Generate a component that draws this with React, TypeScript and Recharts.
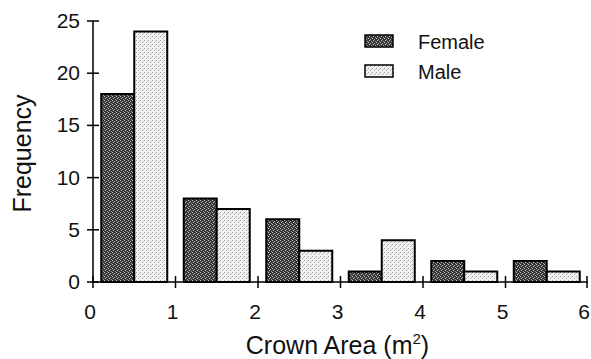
import { Bar, BarChart, Legend, XAxis, YAxis } from "recharts";

const binCenters = [0.5, 1.5, 2.5, 3.5, 4.5, 5.5];
const femaleCounts = [18, 8, 6, 1, 2, 2];
const maleCounts = [24, 7, 3, 4, 1, 1];
const xTicks = [0, 1, 2, 3, 4, 5, 6];
const yTicks = [0, 5, 10, 15, 20, 25];

const data = binCenters.map((x, i) => ({
  x,
  female: femaleCounts[i],
  male: maleCounts[i],
}));

const FONT = '"Liberation Sans", Arial, Helvetica, sans-serif';

function YTick({ x, y, payload }: any) {
  return (
    <g>
      <line x1={x + 7} x2={x + 19} y1={y} y2={y} stroke="#000" strokeWidth={1.5} />
      <text x={x} y={y} dy={7} textAnchor="end" fontSize={21} fontFamily={FONT} fill="#111">
        {payload.value}
      </text>
    </g>
  );
}

function XTick({ x, y, payload }: any) {
  return (
    <g>
      <line x1={x} x2={x} y1={y - 16} y2={y - 4} stroke="#000" strokeWidth={1.5} />
      <text x={x} y={y} dx={-3} dy={27} textAnchor="middle" fontSize={21} fontFamily={FONT} fill="#111">
        {payload.value}
      </text>
    </g>
  );
}

function LegendBox() {
  const items = [
    { name: "Female", fill: "url(#femaleDots)" },
    { name: "Male", fill: "url(#maleDots)" },
  ];
  return (
    <div style={{ fontFamily: FONT, fontSize: 20, color: "#111" }}>
      {items.map((it) => (
        <div key={it.name} style={{ display: "flex", alignItems: "center", height: 30 }}>
          <svg width={30} height={14} style={{ marginRight: 24, marginTop: -3 }}>
            <rect x={1} y={1} width={28} height={12} fill={it.fill} stroke="#000" strokeWidth={1.5} />
          </svg>
          <span>{it.name}</span>
        </div>
      ))}
    </div>
  );
}

export default function App() {
  return (
    <div style={{ position: "absolute", left: 0, top: 0, background: "#fff" }}>
      <BarChart
        width={591}
        height={359}
        data={data}
        margin={{ top: 21, right: 3, bottom: 0, left: 0 }}
        barCategoryGap="10%"
        barGap={0}
      >
        <defs>
          <pattern id="femaleDots" width={4} height={4} patternUnits="userSpaceOnUse">
            <rect width={4} height={4} fill="#363636" />
            <rect x={0} y={0} width={1} height={1} fill="#c8c8c8" />
            <rect x={2} y={1} width={1} height={1} fill="#a8a8a8" />
            <rect x={1} y={2} width={1} height={1} fill="#d0d0d0" />
            <rect x={3} y={3} width={1} height={1} fill="#9a9a9a" />
          </pattern>
          <pattern id="maleDots" width={4} height={4} patternUnits="userSpaceOnUse">
            <rect width={4} height={4} fill="#f2f2f2" />
            <rect x={0} y={0} width={1} height={1} fill="#9c9c9c" />
            <rect x={2} y={2} width={1} height={1} fill="#b0b0b0" />
            <rect x={3} y={1} width={1} height={1} fill="#c4c4c4" />
          </pattern>
        </defs>
        <XAxis
          dataKey="x"
          type="number"
          domain={[0, 6]}
          ticks={xTicks}
          height={77}
          tickSize={6}
          tickMargin={4}
          tickLine={false}
          tick={<XTick />}
          stroke="#000"
          strokeWidth={1.5}
          label={{
            content: ({ viewBox }: any) => (
              <text
                x={viewBox.x + viewBox.width / 2 - 3}
                y={viewBox.y + 72}
                textAnchor="middle"
                fontSize={25}
                fontFamily={FONT}
                fill="#111"
              >
                Crown Area (m
                <tspan fontSize={15} dy={-10}>2</tspan>
                <tspan dy={10}>)</tspan>
              </text>
            ),
          }}
        />
        <YAxis
          type="number"
          domain={[0, 25]}
          ticks={yTicks}
          width={93}
          tickSize={6}
          tickMargin={7}
          tickLine={false}
          tick={<YTick />}
          stroke="#000"
          strokeWidth={1.5}
          label={{
            content: ({ viewBox }: any) => {
              const cx = viewBox.x + 22;
              const cy = viewBox.y + viewBox.height / 2 + 2;
              return (
                <text
                  x={cx}
                  y={cy}
                  transform={`rotate(-90 ${cx} ${cy})`}
                  textAnchor="middle"
                  dominantBaseline="central"
                  fontSize={25}
                  fontFamily={FONT}
                  fill="#111"
                >
                  Frequency
                </text>
              );
            },
          }}
        />
        <Legend
          layout="vertical"
          align="center"
          verticalAlign="middle"
          wrapperStyle={{ top: 27, left: 364, width: 140 }}
          content={() => <LegendBox />}
        />
        <Bar dataKey="female" name="Female" fill="url(#femaleDots)" stroke="#000" strokeWidth={2} isAnimationActive={false} />
        <Bar dataKey="male" name="Male" fill="url(#maleDots)" stroke="#000" strokeWidth={2} isAnimationActive={false} />
      </BarChart>
    </div>
  );
}
